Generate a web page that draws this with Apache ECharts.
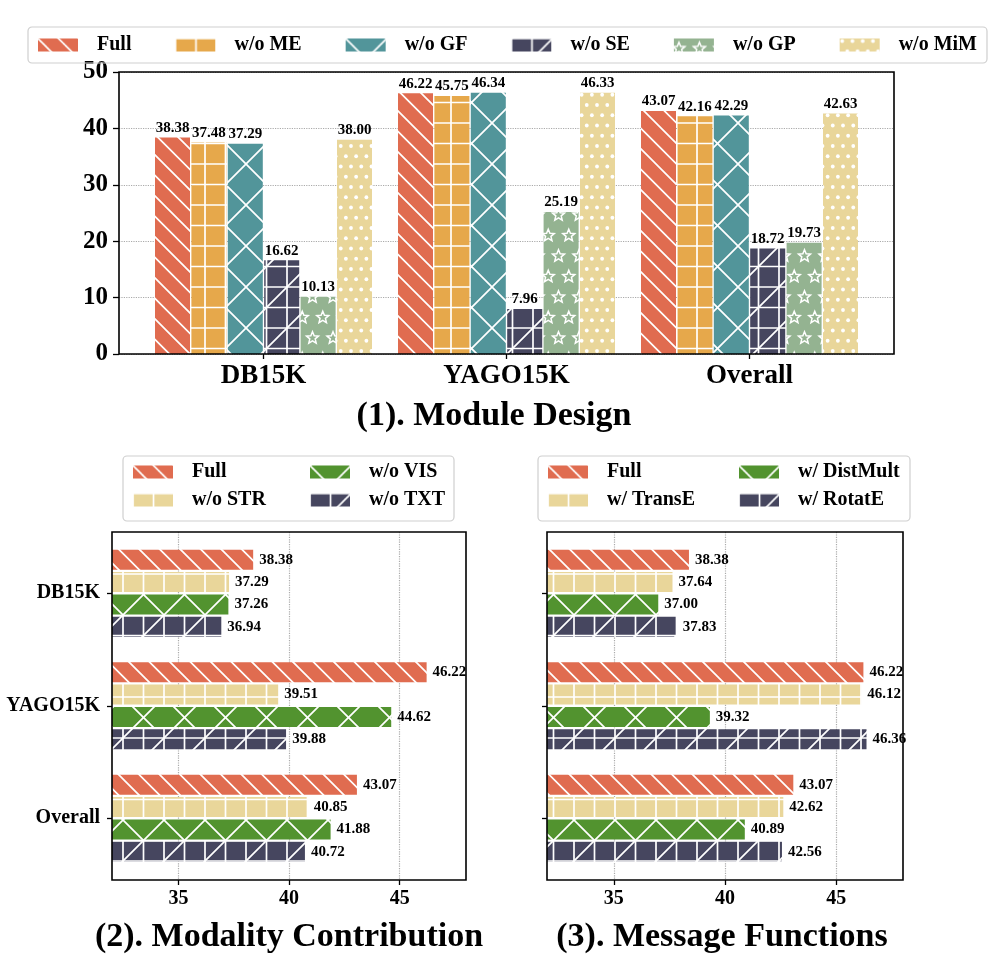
<!DOCTYPE html>
<html>
<head>
<meta charset="utf-8">
<script src="https://cdn.jsdelivr.net/npm/echarts@6/dist/echarts.min.js"></script>
<style>
html,body{margin:0;padding:0;background:#fff;}
#main{width:996px;height:961px;}
</style>
</head>
<body>
<div id="main"></div>
<script>
// ---------- DATA ----------
const categories = ['DB15K', 'YAGO15K', 'Overall'];

// (1) Module Design
const moduleNames = ['Full', 'w/o ME', 'w/o GF', 'w/o SE', 'w/o GP', 'w/o MiM'];
const modFull = [38.38, 46.22, 43.07];
const modME   = [37.48, 45.75, 42.16];
const modGF   = [37.29, 46.34, 42.29];
const modSE   = [16.62, 7.96, 18.72];
const modGP   = [10.13, 25.19, 19.73];
const modMiM  = [38.00, 46.33, 42.63];

// (2) Modality Contribution
const modalityNames = ['Full', 'w/o STR', 'w/o VIS', 'w/o TXT'];
const mcFull = [38.38, 46.22, 43.07];
const mcSTR  = [37.29, 39.51, 40.85];
const mcVIS  = [37.26, 44.62, 41.88];
const mcTXT  = [36.94, 39.88, 40.72];

// (3) Message Functions
const messageNames = ['Full', 'w/ TransE', 'w/ DistMult', 'w/ RotatE'];
const mfFull     = [38.38, 46.22, 43.07];
const mfTransE   = [37.64, 46.12, 42.62];
const mfDistMult = [37.00, 39.32, 40.89];
const mfRotatE   = [37.83, 46.36, 42.56];

const yTicksTop = [0, 10, 20, 30, 40, 50];
const xTicksBottom = [35, 40, 45];

// ---------- STYLE ----------
const FONT = '"Liberation Serif", "Times New Roman", serif';
const C = {
  coral: '#E06C50', orange: '#E6A84B', teal: '#52959A', navy: '#46465F',
  sage: '#94B391', tan: '#E9D69A', green: '#52932F'
};
const S = 41;
function tile(bg, draw) {
  const c = document.createElement('canvas');
  c.width = S; c.height = S;
  const ctx = c.getContext('2d');
  ctx.fillStyle = bg; ctx.fillRect(0, 0, S, S);
  ctx.strokeStyle = '#fff'; ctx.fillStyle = '#fff'; ctx.lineWidth = 1.7;
  draw(ctx);
  return { image: c, repeat: 'repeat' };
}
function back(ctx, step) { // '\\' lines  y = x + c
  ctx.beginPath();
  for (let c = -2 * S; c <= 2 * S; c += step) { ctx.moveTo(-1, c - 1); ctx.lineTo(S + 1, S + c + 1); }
  ctx.stroke();
}
function fwd(ctx, step) { // '/' lines  y = -x + c
  ctx.beginPath();
  for (let c = -S; c <= 3 * S; c += step) { ctx.moveTo(-1, c + 1); ctx.lineTo(S + 1, c - S - 1); }
  ctx.stroke();
}
function grid(ctx, step) {
  ctx.beginPath();
  for (let p = 0; p <= S; p += step) { ctx.moveTo(p, 0); ctx.lineTo(p, S); ctx.moveTo(0, p); ctx.lineTo(S, p); }
  ctx.stroke();
}
function star(ctx, cx, cy, R) {
  ctx.beginPath();
  for (let i = 0; i < 10; i++) {
    const r = i % 2 === 0 ? R : R * 0.45;
    const a = -Math.PI / 2 + i * Math.PI / 5;
    const x = cx + r * Math.cos(a), y = cy + r * Math.sin(a);
    if (i === 0) ctx.moveTo(x, y); else ctx.lineTo(x, y);
  }
  ctx.closePath(); ctx.stroke();
}
function stars(ctx) {
  ctx.lineWidth = 1.5;
  const pts = [[5, 10], [25.5, 10], [15.25, 30.5], [35.75, 30.5]];
  for (const [x, y] of pts) for (const dx of [-S, 0, S]) for (const dy of [-S, 0, S]) star(ctx, x + dx, y + dy, 6.3);
}
function dots(ctx) {
  const st = S / 4;
  for (let r = 0; r < 4; r++) for (let k = -1; k <= 4; k++) {
    const x = k * st + (r % 2 ? st / 2 : 0) + 2.5, y = r * st + 2.5;
    ctx.beginPath(); ctx.arc(x, y, 1.9, 0, Math.PI * 2); ctx.fill();
  }
}
const P = {
  full: tile(C.coral, ctx => back(ctx, S / 2)),
  me: tile(C.orange, ctx => grid(ctx, S / 2)),
  gf: tile(C.teal, ctx => { back(ctx, S); fwd(ctx, S); }),
  se: tile(C.navy, ctx => { grid(ctx, S / 2); fwd(ctx, S); }),
  gp: tile(C.sage, ctx => stars(ctx)),
  mim: tile(C.tan, ctx => dots(ctx)),
  str: tile(C.tan, ctx => grid(ctx, S / 2)),
  vis: tile(C.green, ctx => { back(ctx, S); fwd(ctx, S); }),
  txt: tile(C.navy, ctx => { grid(ctx, S / 2); fwd(ctx, S); })
};

const lblTop = {
  show: true, position: 'top', distance: 2, color: '#000',
  fontFamily: FONT, fontWeight: 'bold', fontSize: 15,
  formatter: p => p.value.toFixed(2)
};
const lblRight = {
  show: true, position: 'right', distance: 6, color: '#000',
  fontFamily: FONT, fontWeight: 'bold', fontSize: 15,
  formatter: p => p.value.toFixed(2)
};
function vbar(name, data, pat) {
  return { type: 'bar', name, data, xAxisIndex: 0, yAxisIndex: 0, barWidth: 35, barGap: '4%',
    itemStyle: { color: pat }, label: lblTop, emphasis: { disabled: true } };
}
function hbar(name, data, pat, idx) {
  return { type: 'bar', name, data, xAxisIndex: idx, yAxisIndex: idx, barWidth: 20, barGap: '12%',
    itemStyle: { color: pat }, label: lblRight, emphasis: { disabled: true } };
}

const axisTxt = { fontFamily: FONT, fontWeight: 'bold', color: '#000' };
const dotted = { show: true, lineStyle: { type: 'dotted', color: '#aaa', width: 1.2 } };
const frame = { show: true, borderColor: '#000', borderWidth: 1.6, backgroundColor: 'transparent', z: 5 };

function valueFrameX(gi) {
  return { type: 'value', gridIndex: gi, min: 32, max: 48, splitNumber: 3,
    axisLine: { show: false },
    axisTick: { show: true, length: 5, lineStyle: { color: '#000', width: 1.3 }, customValues: xTicksBottom },
    axisLabel: Object.assign({ fontSize: 20, margin: 9, customValues: xTicksBottom,
      formatter: v => (xTicksBottom.indexOf(v) >= 0 ? String(v) : '') }, axisTxt),
    splitLine: dotted };
}

const legendText = Object.assign({ fontSize: 20, lineHeight: 20, padding: [0, 0, 0, 14] }, axisTxt);
function vlegend(left, data) {
  return { orient: 'vertical', left, top: 462, padding: 0, itemGap: 8, itemWidth: 40, itemHeight: 13,
    icon: 'rect', data, textStyle: legendText, selectedMode: false };
}

const option = {
  animation: false,
  backgroundColor: '#fff',
  legend: [
    { left: 28, top: 27, padding: [8, 10, 8, 10], itemGap: 44, itemWidth: 40, itemHeight: 13, icon: 'rect',
      borderColor: '#cfcfcf', borderWidth: 1.2, borderRadius: 4, selectedMode: false,
      data: moduleNames, textStyle: legendText },
    vlegend(133, ['Full', 'w/o STR']),
    vlegend(310, ['w/o VIS', 'w/o TXT']),
    vlegend(548, ['Full', 'w/ TransE']),
    vlegend(739, ['w/ DistMult', 'w/ RotatE'])
  ],
  grid: [
    { left: 142, width: 729, top: 72, height: 282, show: false },
    Object.assign({ left: 119, width: 775, top: 72, height: 282 }, frame),
    { left: 112, width: 354, top: 537, height: 337.5, show: false },
    Object.assign({ left: 112, width: 354, top: 532, height: 348 }, frame),
    { left: 547, width: 356, top: 537, height: 337.5, show: false },
    Object.assign({ left: 547, width: 356, top: 532, height: 348 }, frame)
  ],
  xAxis: [
    { type: 'category', gridIndex: 0, data: categories, axisLine: { show: false },
      axisTick: { show: true, alignWithLabel: true, length: 5, lineStyle: { color: '#000', width: 1.3 } },
      axisLabel: Object.assign({ fontSize: 27, margin: 9 }, axisTxt) },
    { type: 'value', gridIndex: 1, show: false },
    { type: 'value', gridIndex: 2, min: 32, max: 48, show: false },
    valueFrameX(3),
    { type: 'value', gridIndex: 4, min: 32, max: 48, show: false },
    valueFrameX(5)
  ],
  yAxis: [
    { type: 'value', gridIndex: 0, min: 0, max: 50, show: false },
    { type: 'value', gridIndex: 1, min: yTicksTop[0], max: yTicksTop[yTicksTop.length - 1], interval: 10,
      axisLine: { show: false },
      axisTick: { show: true, length: 6, lineStyle: { color: '#000', width: 1.3 } },
      axisLabel: Object.assign({ fontSize: 25, margin: 11 }, axisTxt),
      splitLine: dotted },
    { type: 'category', gridIndex: 2, data: categories, inverse: true, axisLine: { show: false },
      axisTick: { show: true, alignWithLabel: true, length: 5, lineStyle: { color: '#000', width: 1.3 } },
      axisLabel: Object.assign({ fontSize: 20, margin: 12 }, axisTxt) },
    { type: 'value', gridIndex: 3, show: false },
    { type: 'category', gridIndex: 4, data: categories, inverse: true, axisLine: { show: false },
      axisTick: { show: true, alignWithLabel: true, length: 5, lineStyle: { color: '#000', width: 1.3 } },
      axisLabel: { show: false } },
    { type: 'value', gridIndex: 5, show: false }
  ],
  series: [
    vbar(moduleNames[0], modFull, P.full),
    vbar(moduleNames[1], modME, P.me),
    vbar(moduleNames[2], modGF, P.gf),
    vbar(moduleNames[3], modSE, P.se),
    vbar(moduleNames[4], modGP, P.gp),
    vbar(moduleNames[5], modMiM, P.mim),

    hbar(modalityNames[0], mcFull, P.full, 2),
    hbar(modalityNames[1], mcSTR, P.str, 2),
    hbar(modalityNames[2], mcVIS, P.vis, 2),
    hbar(modalityNames[3], mcTXT, P.txt, 2),

    hbar(messageNames[0], mfFull, P.full, 4),
    hbar(messageNames[1], mfTransE, P.str, 4),
    hbar(messageNames[2], mfDistMult, P.vis, 4),
    hbar(messageNames[3], mfRotatE, P.txt, 4)
  ],
  graphic: [
    { type: 'rect', shape: { x: 123, y: 456, width: 331, height: 65, r: 4 }, style: { fill: 'none', stroke: '#cfcfcf', lineWidth: 1.2 } },
    { type: 'rect', shape: { x: 538, y: 456, width: 372, height: 65, r: 4 }, style: { fill: 'none', stroke: '#cfcfcf', lineWidth: 1.2 } },
    { type: 'text', x: 494, y: 416, style: { text: '(1). Module Design', font: 'bold 34px ' + FONT, fill: '#000', textAlign: 'center', textVerticalAlign: 'middle' } },
    { type: 'text', x: 289, y: 937, style: { text: '(2). Modality Contribution', font: 'bold 34px ' + FONT, fill: '#000', textAlign: 'center', textVerticalAlign: 'middle' } },
    { type: 'text', x: 722, y: 937, style: { text: '(3). Message Functions', font: 'bold 34px ' + FONT, fill: '#000', textAlign: 'center', textVerticalAlign: 'middle' } }
  ]
};

const chart = echarts.init(document.getElementById('main'), null, { renderer: 'canvas' });
chart.setOption(option);
</script>
</body>
</html>
